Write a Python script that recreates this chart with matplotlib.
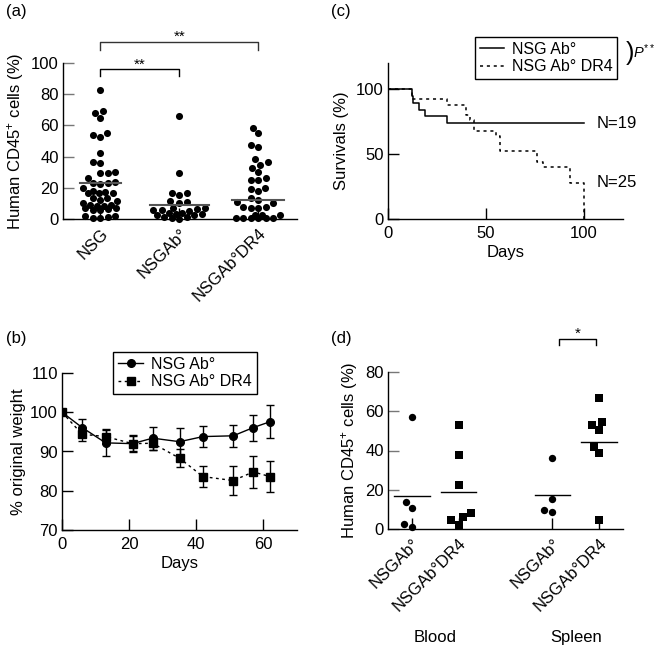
import numpy as np
import matplotlib.pyplot as plt
from matplotlib.lines import Line2D
from matplotlib.transforms import blended_transform_factory

plt.rcParams['font.family'] = ['Liberation Sans', 'DejaVu Sans']
plt.rcParams['font.size'] = 12
plt.rcParams['mathtext.fontset'] = 'custom'
plt.rcParams['mathtext.rm'] = 'Liberation Sans'
plt.rcParams['mathtext.it'] = 'Liberation Sans:italic'
plt.rcParams['axes.linewidth'] = 1.0

########## data ##########

# (a) human CD45+ cells per strain
a_groups = ['NSG', 'NSGAb°', 'NSGAb°DR4']
a_nsg = [83, 69.4, 68.1, 64.5, 55.3, 53.8, 52.8, 42.5, 36.3, 35.7, 30, 29.8, 29.3,
         26.5, 23.9, 23.3, 22.9, 22.3, 19.7, 17.9, 17.1, 16.5, 16.5, 16.5, 13.2,
         13.2, 11.9, 11.5, 10.5, 9.2, 9.2, 8.5, 8.5, 6.8, 6.8, 6.2, 5.8, 5.8,
         1.9, 1.9, 1.4, 0.8, 0.8]
a_ab = [66, 29.3, 16.9, 16.9, 15.4, 11.5, 11.1, 10, 7, 7, 6.5, 6, 5.5, 5,
        4, 4, 3.5, 3, 2.5, 2.5, 1, 1, 0.5, 0.2]
a_dr4 = [58.5, 54.9, 47.4, 46.4, 38.2, 36.3, 34.6, 32.9, 29.9, 26.1, 25, 25,
         19.7, 19, 17.9, 13.7, 12.2, 11.1, 10, 7.9, 7.9, 7.2, 6.8,
         2.6, 2.6, 2.6, 0.4, 0.4, 0.4, 0.4, 0.4, 0.4]
a_lines = [23, 9, 12.5]

# (b) weight curves
b_days = [0, 6, 13, 21, 27, 35, 42, 51, 57, 62]
b_ab = [100, 96.1, 92.2, 92, 93.4, 92.5, 93.8, 94.0, 96.1, 97.6]
b_ab_err = [0, 2.3, 3.3, 2.2, 2.9, 3.4, 2.7, 2.8, 3.3, 4.2]
b_dr4 = [100, 94.4, 93.8, 92, 92.1, 88.3, 83.6, 82.6, 84.8, 83.6]
b_dr4_err = [0, 1.8, 2, 2, 1.7, 2.3, 2.6, 3.8, 4.1, 4]

# (c) survival (Kaplan-Meier steps)
c_ab_days = [0, 12, 13, 16, 19, 30, 100]
c_ab_surv = [100, 94.7, 89.5, 84.2, 78.9, 73.7, 73.7]
c_dr4_days = [0, 12, 30, 40, 42, 44, 55, 57, 76, 79, 93, 100]
c_dr4_surv = [100, 92, 88, 80, 76, 68, 64, 52, 44, 40, 28, 0]

# (d) blood / spleen
d_groups = ['NSGAb°', 'NSGAb°DR4', 'NSGAb°', 'NSGAb°DR4']
d_blood_ab = [57, 14, 10.5, 2.7, 0.8]
d_blood_dr4 = [53, 37.5, 22.5, 8, 6, 4.5, 2.2]
d_spleen_ab = [36, 15.3, 9.5, 8.5]
d_spleen_dr4 = [67, 54.5, 53, 50.3, 42, 38.5, 4.8]
d_lines = [17, 19, 17.2, 44.5]
d_tissues = ['Blood', 'Spleen']


def swarm_x(values, center, px_x, px_y, d=7.0, wmax=24):
    # beeswarm: nearest free offset, overlapping once the column is full
    vals = np.asarray(values, float)
    placed = []
    xs = np.zeros(len(vals))
    cands = sorted(np.arange(-wmax, wmax + 0.1, 0.5), key=lambda c: (abs(c), c))
    for i in np.argsort(vals):
        y = vals[i] * px_y
        best, score = 0.0, -1.0
        for c in cands:
            dmin = min([np.hypot(c - px, y - py) for px, py in placed], default=1e9)
            if dmin >= d:
                best = c
                break
            if dmin > score:
                best, score = c, dmin
        placed.append((best, y))
        xs[i] = center + best / px_x
    return xs


def style(ax, ytick_color='black'):
    ax.spines['top'].set_visible(False)
    ax.spines['right'].set_visible(False)
    ax.tick_params(direction='in', length=8, width=1, labelsize=12)
    ax.tick_params(axis='y', color=ytick_color, pad=3)
    ax.tick_params(axis='x', pad=5)


W, H = 658, 647
fig = plt.figure(figsize=(W / 100, H / 100), dpi=100)


def box(l, t, r, b):
    return [l / W, 1 - b / H, (r - l) / W, (b - t) / H]


########## (a) ##########
ax = fig.add_axes(box(63, 63, 297, 219))
style(ax, '#777777')
ax.set_xlim(-0.47, 2.49)
ax.set_ylim(0, 100)
pxx, pxy = 79.0, 1.56
for k, vals in enumerate([a_nsg, a_ab, a_dr4]):
    xs = swarm_x(vals, k, pxx, pxy, d=7.5, wmax=[17, 26, 25][k])
    ax.scatter(xs, vals, s=26, color='black', linewidths=0, clip_on=False, zorder=3)
    r = 3.5 / pxx
    ax.plot([xs.min() - r, xs.max() + r], [a_lines[k]] * 2, color='#555555', lw=1.5, zorder=4)
ax.set_yticks([0, 20, 40, 60, 80, 100])
ax.set_xticks([0, 1, 2])
ax.set_xticklabels(a_groups, rotation=45, ha='right', va='top', rotation_mode='anchor')
ax.set_ylabel('Human CD45$^{+}$ cells (%)', labelpad=4)
# significance brackets
ax.plot([0, 0, 1, 1], [91.5, 96, 96, 91.5], color='black', lw=1, clip_on=False)
ax.text(0.5, 99, '**', ha='center', va='center', fontsize=11)
ax.plot([0, 0, 2, 2], [108.5, 113.5, 113.5, 108.5], color='#333333', lw=1, clip_on=False)
ax.text(1.0, 117, '**', ha='center', va='center', fontsize=11)

########## (b) ##########
ax = fig.add_axes(box(62, 373, 297, 530))
style(ax)
ax.errorbar(b_days, b_dr4, yerr=b_dr4_err, color='black', ls=(0, (2, 2.5)), lw=1,
            marker='s', ms=5.5, capsize=3, elinewidth=1)
ax.errorbar(b_days, b_ab, yerr=b_ab_err, color='black', ls='-', lw=1,
            marker='o', ms=5.5, capsize=3, elinewidth=1)
ax.set_xlim(0, 70)
ax.set_ylim(70, 110)
ax.set_xticks([0, 20, 40, 60])
ax.set_yticks([70, 80, 90, 100, 110])
ax.set_xlabel('Days', labelpad=3)
ax.set_ylabel('% original weight', labelpad=3)
handles = [Line2D([], [], color='black', lw=1, marker='o', ms=5.5),
           Line2D([], [], color='black', lw=1, ls=(0, (2, 2.5)), marker='s', ms=5.5)]
leg = ax.legend(handles, ['NSG Ab°', 'NSG Ab° DR4'], loc='upper left',
                bbox_to_anchor=(0.217, 1.134), fancybox=False, edgecolor='black',
                framealpha=1, fontsize=11.5, handlelength=1.6, handletextpad=0.5,
                borderpad=0.3, labelspacing=0.15, borderaxespad=0)
leg.get_frame().set_linewidth(1)

########## (c) ##########
ax = fig.add_axes(box(388, 63, 623, 219))
style(ax)
ax.step(c_ab_days, c_ab_surv, where='post', color='black', lw=1.1, label='NSG Ab°')
ax.step(c_dr4_days, c_dr4_surv, where='post', color='black', lw=1.1, ls=(0, (2, 2.5)),
        label='NSG Ab° DR4')
ax.set_xlim(0, 120)
ax.set_ylim(0, 120)
ax.set_xticks([0, 50, 100])
ax.set_yticks([0, 50, 100])
ax.set_xlabel('Days', labelpad=3)
ax.set_ylabel('Survivals (%)', labelpad=5)
ax.text(106.5, c_ab_surv[-1], 'N=19', ha='left', va='center', fontsize=12)
ax.text(106.5, 28, 'N=25', ha='left', va='center', fontsize=12)
leg = ax.legend(loc='upper right', bbox_to_anchor=(0.975, 1.167), fancybox=False,
                edgecolor='black', framealpha=1, fontsize=11.5, handlelength=1.5,
                handletextpad=0.5, borderpad=0.3, labelspacing=0.15, borderaxespad=0)
leg.get_frame().set_linewidth(1)
ax.text(1.012, 1.064, ')', transform=ax.transAxes, ha='left', va='center', fontsize=18)
ax.text(1.043, 1.07, '$P^{**}$', transform=ax.transAxes, ha='left', va='center', fontsize=10.5)

########## (d) ##########
ax = fig.add_axes(box(388, 372, 623, 529))
style(ax, '#777777')
ax.set_xlim(-0.51, 4.51)
ax.set_ylim(0, 80)
pos = [0, 1, 3, 4]
pxx, pxy = 46.75, 1.963
markers = ['o', 's', 'o', 's']
for k, vals in enumerate([d_blood_ab, d_blood_dr4, d_spleen_ab, d_spleen_dr4]):
    xs = swarm_x(vals, pos[k], pxx, pxy, d=8.5, wmax=12)
    ax.scatter(xs, vals, s=28, marker=markers[k], color='black', linewidths=0,
               clip_on=False, zorder=3)
    ax.plot([pos[k] - 0.38, pos[k] + 0.38], [d_lines[k]] * 2, color='black', lw=1, zorder=4)
ax.set_xticks(pos)
ax.set_xticklabels(d_groups, rotation=45, ha='right', va='top', rotation_mode='anchor')
ax.set_yticks([0, 20, 40, 60, 80])
ax.set_ylabel('Human CD45$^{+}$ cells (%)', labelpad=4)
tr = blended_transform_factory(ax.transData, ax.transAxes)
ax.text(0.5, -0.694, d_tissues[0], transform=tr, ha='center', va='center', fontsize=12)
ax.text(3.5, -0.694, d_tissues[1], transform=tr, ha='center', va='center', fontsize=12)
ax.plot([3.15, 3.15, 3.93, 3.93], [93.7, 96.6, 96.6, 93.7], color='black', lw=1, clip_on=False)
ax.text(3.54, 99.3, '*', ha='center', va='center', fontsize=11)

########## panel labels ##########
for lab, x, y in [('(a)', 6, 4), ('(b)', 6, 331), ('(c)', 331, 4), ('(d)', 331, 331)]:
    fig.text(x / W, 1 - y / H, lab, ha='left', va='top', fontsize=12)

fig.savefig('out.png', dpi=100)
